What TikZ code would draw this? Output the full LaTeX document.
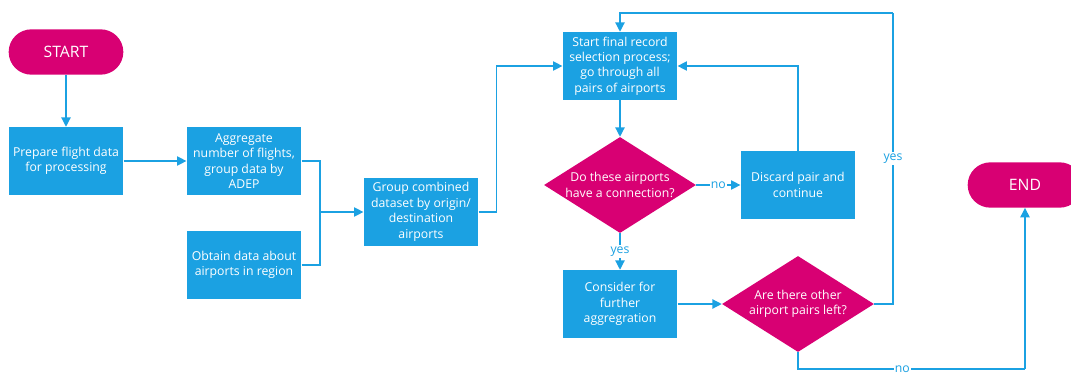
\documentclass[tikz,border=0pt]{standalone}
\usepackage{fontspec}
\setmainfont{Open Sans}
\usepackage{tikz}
\usetikzlibrary{arrows.meta,shapes.geometric}
\definecolor{metroblue}{HTML}{1BA1E2}
\definecolor{metropink}{HTML}{D80073}

\begin{document}
\begin{tikzpicture}[x=0.75pt,y=-0.75pt,
    font=\fontsize{9.2}{11.6}\selectfont,
    box/.style={fill=metroblue,text=white,minimum width=86pt,minimum height=51pt,
      inner sep=1pt,align=center},
    ask/.style={diamond,fill=metropink,text=white,minimum width=114pt,minimum height=72pt,
      aspect=1.58,inner sep=0pt,align=center},
    term/.style={fill=metropink,text=white,rounded corners=17pt,minimum width=86pt,
      minimum height=34pt,font=\fontsize{11.8}{13}\selectfont},
    line/.style={draw=metroblue,line width=0.9pt},
    arr/.style={line,-{Triangle[length=7pt,width=7pt]}},
    lbl/.style={fill=white,text=metroblue,inner sep=1pt}]
       \useasboundingbox (0,0) rectangle (1071,372);
       % left column
       \node[term] (start) at (66,52) {START};
       \node[box] (prep) at (66,161) {Prepare flight data\\for processing};
       \node[box] (aggr) at (244,161) {Aggregate\\number of flights,\\group data by\\ADEP};
       \node[box] (obtain) at (244,265) {Obtain data about\\airports in region};
       \node[box] (group) at (421,212) {Group combined\\dataset by origin/\\destination\\airports};
       % selection loop
       \node[box] (startsel) at (620,66) {Start final record\\selection process;\\go through all\\pairs of airports};
       \node[ask] (conn) at (620,185) {Do these airports\\have a connection?};
       \node[box] (discard) at (798,185) {Discard pair and\\continue};
       \node[box] (consider) at (620,304) {Consider for\\further\\aggregration};
       \node[ask] (left) at (798,304) {Are there other\\airport pairs left?};
       \node[term] (end) at (1025,185) {END};
       \coordinate (join) at (320,212);
       \coordinate (loop) at (893,13);
       \coordinate (bot) at (1025,369);
       % connectors
       \draw[arr] (start) -- (prep);
       \draw[arr] (prep) -- (aggr);
       \draw[line] (aggr.east) -| (join);
       \draw[line] (obtain.east) -| (join);
       \draw[arr] (join) -- (group.west);
       \draw[arr] (group.east) -- ++(18,0) |- (startsel.west);
       \draw[arr] (startsel) -- (conn);
       \draw[arr] (conn) -- node[lbl]{no} (discard);
       \draw[arr] (discard.north) |- (startsel.east);
       \draw[arr] (conn) -- node[lbl]{yes} (consider);
       \draw[arr] (consider) -- (left);
       \draw[line] (left.east) -| node[lbl,pos=0.75]{yes} (loop);
       \draw[arr] (loop) -| (startsel.north);
       \draw[line] (left.south) |- node[lbl,pos=0.73]{no} (bot);
       \draw[arr] (bot) -- (end.south);
      \end{tikzpicture}
\end{document}
